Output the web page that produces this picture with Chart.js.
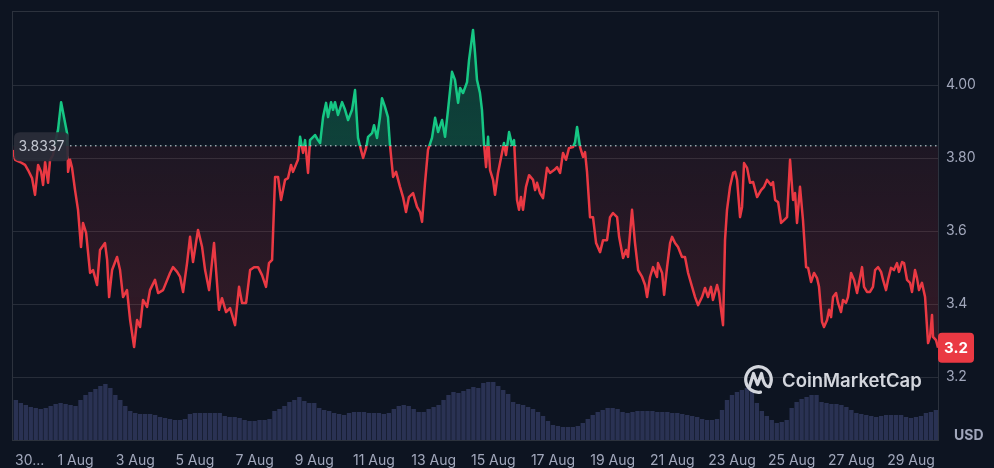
<!DOCTYPE html>
<html><head><meta charset="utf-8">
<script src="https://cdn.jsdelivr.net/npm/chart.js@4.4.0/dist/chart.umd.min.js"></script>
<style>html,body{margin:0;padding:0;background:#0d1421;}canvas{display:block;}</style>
</head><body>
<canvas id="c" width="994" height="468"></canvas>
<script>
// hours since 30 Jul 00:00
const priceHours = [-2.3,-0.6,3.4,7.4,9.8,13.0,15.4,17.9,20.3,21.9,
23.5,25.9,27.5,29.9,31.5,33.9,36.4,38.8,41.2,42.0,
43.6,45.2,47.6,50.0,52.4,54.0,56.5,59.7,62.1,65.3,
67.7,71.7,73.4,75.0,77.4,81.4,83.8,86.2,89.4,91.9,
95.1,97.5,99.9,102.3,105.5,107.9,111.9,114.4,118.4,124.0,
126.4,129.7,132.1,134.5,137.7,140.1,142.5,146.5,149.8,152.2,
155.4,159.4,163.4,165.8,169.1,172.3,176.3,179.5,181.9,185.2,
188.4,191.6,194.8,198.0,201.2,203.6,206.1,208.5,210.9,213.3,
216.5,218.9,221.3,222.9,226.9,228.6,231.0,232.6,235.0,236.6,
240.6,243.0,244.7,247.1,249.5,251.1,253.5,255.1,256.7,259.1,
262.4,264.8,267.2,270.4,272.8,275.2,277.6,279.3,281.7,283.3,
286.5,288.1,290.5,292.9,294.5,296.9,299.3,300.9,303.4,305.8,
309.0,311.4,313.8,316.2,319.5,322.7,325.1,326.7,329.1,331.5,
334.7,337.2,339.6,342.8,345.2,347.6,350.8,353.2,355.7,357.3,
359.7,362.9,364.5,367.7,369.3,370.9,373.3,374.9,376.5,378.2,
379.8,381.4,383.8,385.4,387.8,391.0,392.6,394.2,396.7,399.1,
400.7,403.1,404.7,406.3,407.9,410.3,412.8,416.0,417.6,419.2,
421.6,424.0,427.2,429.6,432.9,435.3,437.7,440.1,442.5,444.9,
448.2,449.8,451.4,453.8,456.2,457.8,459.4,461.8,464.2,466.7,
469.9,472.3,475.5,477.9,480.3,483.6,485.2,488.4,490.8,492.4,
495.6,498.0,500.5,503.7,506.1,507.7,510.1,512.5,515.7,516.5,
519.8,521.4,523.8,526.2,527.8,530.2,532.6,535.8,538.2,540.7,
543.9,546.3,548.7,551.9,554.3,556.7,559.1,560.7,564.0,565.6,
567.2,568.8,570.4,572.0,574.4,576.9,578.5,580.1,582.5,584.1,
585.7,588.1,590.5,593.0,596.2,599.4,601.8,604.2,607.4,609.0,
610.7,613.1,615.5,617.9,620.3,622.7,625.1,626.7,628.3,630.7,
633.1,635.6,637.2,639.6,642.0,644.4,646.0,648.4,650.0,652.5,
654.1,655.7,657.3,659.7,661.3,663.7,665.3,667.7,669.3,671.8,
674.2,676.6,678.2,680.6,682.2,684.6,687.0,689.4,691.1,693.5,
695.9,697.5,699.9,701.5,703.9,706.3,708.7,710.3,712.8,714.4,
716.8,719.2,720.8,723.2,724.8,726.4,728.8,731.3,733.7,735.3,
736.9,737.7,740.1,741.7];

const priceUSD = [3.822,3.795,3.789,3.781,3.767,3.745,3.699,3.781,3.762,3.726,
3.789,3.732,3.795,3.808,3.841,3.877,3.953,3.910,3.868,3.762,
3.795,3.773,3.712,3.658,3.556,3.622,3.595,3.485,3.493,3.452,
3.548,3.567,3.521,3.419,3.493,3.529,3.493,3.419,3.438,3.356,
3.282,3.356,3.337,3.411,3.392,3.438,3.466,3.430,3.438,3.485,
3.501,3.488,3.474,3.433,3.512,3.584,3.515,3.603,3.556,3.493,
3.438,3.567,3.384,3.416,3.378,3.389,3.342,3.447,3.403,3.403,
3.493,3.501,3.501,3.479,3.447,3.512,3.521,3.748,3.748,3.685,
3.740,3.745,3.781,3.762,3.795,3.858,3.814,3.849,3.759,3.849,
3.863,3.849,3.841,3.912,3.951,3.912,3.953,3.932,3.953,3.918,
3.953,3.932,3.904,3.932,3.986,3.855,3.822,3.800,3.827,3.858,
3.868,3.890,3.855,3.912,3.964,3.940,3.912,3.836,3.748,3.762,
3.721,3.693,3.652,3.693,3.704,3.666,3.652,3.625,3.732,3.822,
3.855,3.910,3.871,3.904,3.858,3.932,4.036,4.014,3.951,3.992,
3.978,4.008,4.068,4.151,4.088,4.014,3.978,3.932,3.841,3.775,
3.858,3.767,3.740,3.699,3.759,3.814,3.841,3.808,3.871,3.836,
3.849,3.685,3.658,3.693,3.658,3.721,3.753,3.740,3.712,3.732,
3.704,3.690,3.773,3.759,3.767,3.775,3.759,3.814,3.795,3.827,
3.830,3.844,3.885,3.830,3.803,3.816,3.762,3.638,3.638,3.567,
3.542,3.575,3.575,3.638,3.649,3.638,3.584,3.526,3.548,3.529,
3.658,3.567,3.493,3.474,3.452,3.419,3.474,3.501,3.474,3.512,
3.485,3.425,3.501,3.567,3.584,3.567,3.556,3.529,3.529,3.485,
3.447,3.419,3.397,3.419,3.444,3.419,3.447,3.411,3.452,3.430,
3.384,3.342,3.575,3.658,3.721,3.759,3.762,3.740,3.638,3.666,
3.786,3.773,3.732,3.734,3.693,3.712,3.721,3.740,3.726,3.734,
3.685,3.679,3.622,3.630,3.638,3.795,3.685,3.704,3.622,3.721,
3.630,3.501,3.499,3.460,3.485,3.471,3.447,3.351,3.337,3.356,
3.384,3.364,3.419,3.430,3.403,3.378,3.411,3.403,3.419,3.485,
3.466,3.430,3.458,3.501,3.447,3.433,3.433,3.447,3.493,3.501,
3.488,3.466,3.438,3.466,3.499,3.493,3.512,3.488,3.515,3.512,
3.466,3.458,3.433,3.493,3.471,3.438,3.458,3.419,3.293,3.310,
3.370,3.310,3.301,3.280];

// volume per 4-hour bucket (relative units)
const volumeM = [40,37,35,33,32,31,32,34,36,37,
36,35,34,40,45,48,51,54,56,52,
45,40,34,29,27,26,26,26,25,23,
22,21,20,20,21,26,27,27,27,27,
27,27,24,23,23,22,20,19,19,20,
20,21,29,31,34,38,40,43,39,37,
37,32,30,29,27,26,25,27,28,28,
28,27,27,27,26,27,31,34,35,34,
31,28,28,31,33,35,40,45,48,47,
49,51,53,52,57,58,58,54,50,46,
38,36,35,33,31,28,24,19,15,14,
13,13,13,14,17,21,25,28,30,32,
32,31,28,27,28,29,29,29,29,28,
28,28,27,27,26,25,24,23,21,20,
20,21,30,40,45,48,50,52,50,37,
29,24,20,17,18,20,32,38,41,43,
45,45,38,37,36,36,35,33,30,27,
26,25,24,23,24,25,25,25,25,23,
22,23,24,27,28,30];
const volumeStepHours = 4;

const baselinePrice = 3.8337;
const xTickHours = [0,48,96,144,192,240,288,336,384,432,480,528,576,624,672,720];
const xTickLabels = ['       30...','1 Aug','3 Aug','5 Aug','7 Aug','9 Aug','11 Aug','13 Aug','15 Aug','17 Aug','19 Aug','21 Aug','23 Aug','25 Aug','27 Aug','29 Aug'];
const yTickValues = [3.2,3.4,3.6,3.8,4.0];
const yTickLabels = ['3.2','3.4','3.6','3.80','4.00'];
const yMin = 3.0274, yMax = 4.2;
const volMax = 428;

const UP = '#16c784', DOWN = '#ea3943';
const textCol = '#a1a7bb';
const gridCol = 'rgba(255,255,255,0.11)';

function splitGrad(chart, topCol, upMid, downMid, botCol) {
  const a = chart.chartArea;
  if (!a) return null;
  const yb = chart.scales.y.getPixelForValue(baselinePrice);
  const f = Math.min(Math.max((yb - a.top) / (a.bottom - a.top), 0), 1);
  const g = chart.ctx.createLinearGradient(0, a.top, 0, a.bottom);
  g.addColorStop(0, topCol); g.addColorStop(f, upMid);
  g.addColorStop(f, downMid); g.addColorStop(1, botCol);
  return g;
}

function rrect(ctx, x, y, w, h, r) {
  ctx.beginPath();
  ctx.moveTo(x + r, y); ctx.lineTo(x + w - r, y); ctx.quadraticCurveTo(x + w, y, x + w, y + r);
  ctx.lineTo(x + w, y + h - r); ctx.quadraticCurveTo(x + w, y + h, x + w - r, y + h);
  ctx.lineTo(x + r, y + h); ctx.quadraticCurveTo(x, y + h, x, y + h - r);
  ctx.lineTo(x, y + r); ctx.quadraticCurveTo(x, y, x + r, y); ctx.closePath();
}

const overlay = {
  id: 'overlay',
  beforeDatasetsDraw(chart) {
    const {ctx, chartArea: a} = chart;
    ctx.save();
    ctx.strokeStyle = 'rgba(255,255,255,0.13)';
    ctx.lineWidth = 1;
    ctx.strokeRect(a.left - 0.5, a.top - 0.5, a.right - a.left + 1, a.bottom - a.top + 1);
    ctx.restore();
  },
  afterDatasetsDraw(chart) {
    const {ctx, chartArea: a, scales: {y}} = chart;
    const yb = y.getPixelForValue(baselinePrice);
    ctx.save();
    // dotted baseline
    ctx.strokeStyle = 'rgba(200,205,215,0.75)';
    ctx.lineWidth = 1.5;
    ctx.setLineDash([1.5, 3.5]);
    ctx.beginPath(); ctx.moveTo(70, yb); ctx.lineTo(a.right, yb); ctx.stroke();
    ctx.setLineDash([]);
    // baseline label
    rrect(ctx, 14, yb - 13.5, 55, 29, 6);
    ctx.fillStyle = 'rgba(42,46,58,0.92)'; ctx.fill();
    ctx.fillStyle = '#c3c7d1';
    ctx.font = '14px Inter';
    ctx.textAlign = 'center'; ctx.textBaseline = 'middle';
    ctx.fillText(baselinePrice.toFixed(4), 41.5, yb + 1);
    // current price label
    const last = priceUSD[priceUSD.length - 1];
    const yl = y.getPixelForValue(last);
    rrect(ctx, a.right, yl - 15, 36, 30, 4);
    ctx.fillStyle = DOWN; ctx.fill();
    ctx.fillStyle = '#ffffff';
    ctx.font = 'bold 15px Inter';
    ctx.fillText((Math.floor(last * 10) / 10).toFixed(1), a.right + 18, yl + 1);
    // USD
    ctx.fillStyle = textCol;
    ctx.font = 'bold 14px Inter';
    ctx.textAlign = 'left';
    ctx.fillText('USD', 954, 436);
    // watermark
    const wm = '#d3d6dd';
    ctx.strokeStyle = wm; ctx.lineWidth = 3.2; ctx.lineCap = 'round'; ctx.lineJoin = 'round';
    const cx = 758.5, cy = 379.5, r = 12.8;
    ctx.beginPath(); ctx.arc(cx, cy, r, 0.45 * Math.PI, 2.17 * Math.PI); ctx.stroke();
    ctx.beginPath();
    ctx.moveTo(cx - 9, cy + 7);
    ctx.lineTo(cx - 5, cy - 6);
    ctx.lineTo(cx - 1, cy + 5);
    ctx.lineTo(cx + 3, cy - 6);
    ctx.quadraticCurveTo(cx + 6, cy + 9, cx + 11, cy + 7);
    ctx.stroke();
    ctx.fillStyle = wm;
    ctx.font = '600 18.5px Inter';
    ctx.textBaseline = 'middle';
    ctx.fillText('CoinMarketCap', 782, 381);
    ctx.restore();
  }
};

const priceData = priceHours.map((h, i) => ({x: h, y: priceUSD[i]}));
const volumeData = volumeM.map((v, i) => ({x: i * volumeStepHours, y: v}));

new Chart(document.getElementById('c'), {
  type: 'line',
  data: {
    datasets: [
      {
        type: 'line', data: priceData, yAxisID: 'y', order: 0,
        borderWidth: 2.5, pointRadius: 0, tension: 0,
        borderJoinStyle: 'round',
        borderColor: c => splitGrad(c.chart, UP, UP, DOWN, DOWN) || DOWN,
        backgroundColor: c => splitGrad(c.chart, 'rgba(22,199,132,0.18)', 'rgba(22,199,132,0.26)', 'rgba(234,57,67,0.08)', 'rgba(234,57,67,0.22)') || 'transparent',
        fill: {target: {value: baselinePrice}}
      },
      {
        type: 'bar', data: volumeData, yAxisID: 'yv', order: 1,
        backgroundColor: '#2a3253', borderWidth: 0,
        barPercentage: 0.88, categoryPercentage: 1
      }
    ]
  },
  options: {
    responsive: false, animation: false, devicePixelRatio: 1,
    layout: {padding: {left: 13, top: 12, right: 0, bottom: 0}},
    plugins: {legend: {display: false}, tooltip: {enabled: false}},
    scales: {
      x: {
        type: 'linear', min: priceHours[0], max: priceHours[priceHours.length - 1], offset: false,
        grid: {display: false, drawTicks: false}, border: {display: false},
        afterBuildTicks: s => { s.ticks = xTickHours.map(v => ({value: v})); },
        afterFit: s => { s.height = 28; s.paddingLeft = 0; s.paddingRight = 0; },
        ticks: {autoSkip: false, maxRotation: 0, padding: 12, color: textCol,
                font: {family: 'Inter', size: 14}, callback: (v, i) => xTickLabels[i]}
      },
      y: {
        position: 'right', min: yMin, max: yMax,
        grid: {color: gridCol, drawTicks: false}, border: {display: false},
        afterBuildTicks: s => { s.ticks = yTickValues.map(v => ({value: v})); },
        afterFit: s => { s.width = 56; s.paddingTop = 0; s.paddingBottom = 0; },
        ticks: {padding: 8, color: textCol, font: {family: 'Inter', size: 14},
                callback: (v, i) => yTickLabels[i]}
      },
      yv: {display: false, min: 0, max: volMax}
    }
  },
  plugins: [overlay]
});
</script>
</body></html>
